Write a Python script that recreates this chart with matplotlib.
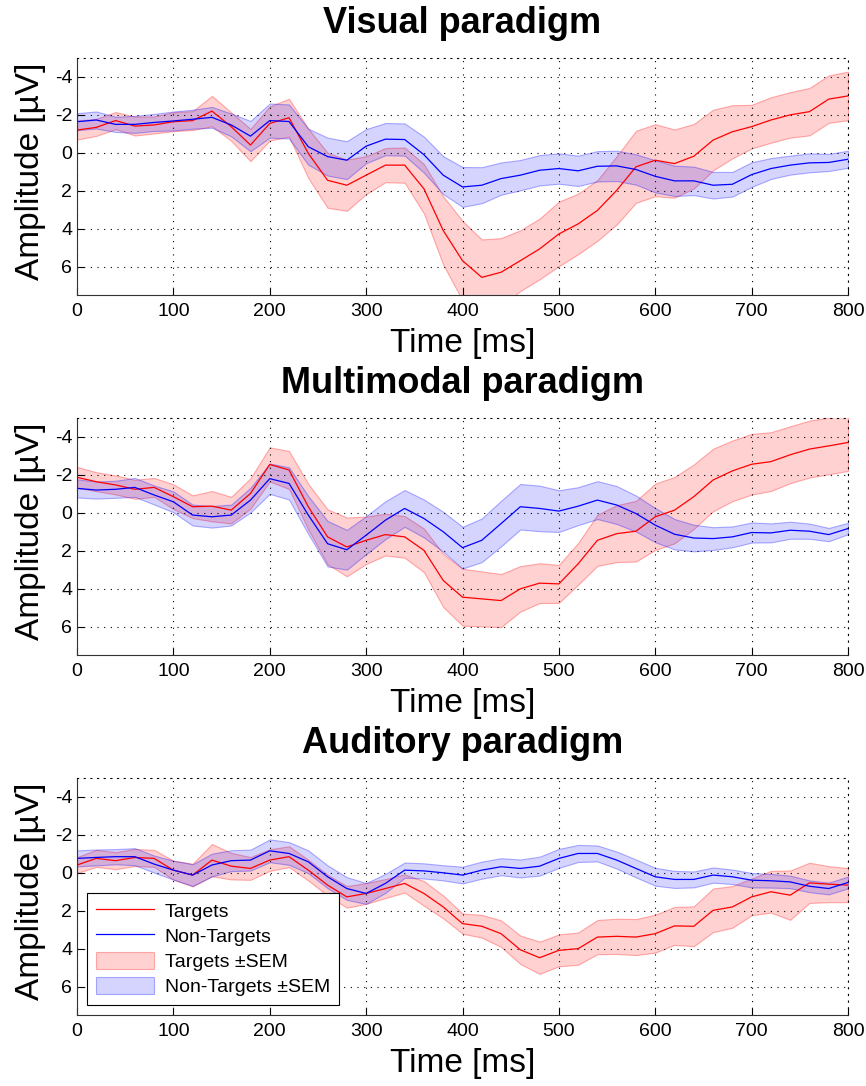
import numpy as np
import matplotlib.pyplot as plt

plt.rcParams['font.family'] = ['Liberation Sans', 'DejaVu Sans']
plt.rcParams['axes.unicode_minus'] = False

# time axis in ms (one value every 20 ms)
t = np.arange(0, 801, 20)

# Visual paradigm
vis_tgt = [-1.2, -1.34, -1.7, -1.41, -1.47, -1.64, -1.7, -2.2, -1.38, -0.41,
           -1.55, -1.85, 0.03, 1.45, 1.71, 1.18, 0.65, 0.65, 1.9, 4.1,
           5.69, 6.57, 6.3, 5.69, 5.07, 4.28, 3.75, 3.04, 1.98, 0.74,
           0.39, 0.57, 0.18, -0.67, -1.11, -1.38, -1.73, -2.0, -2.17, -2.83, -3.0]
vis_tgt_sem = [0.5, 0.45, 0.45, 0.5, 0.45, 0.5, 0.5, 0.8, 0.75, 0.85,
               0.9, 1.0, 1.3, 1.45, 1.35, 1.0, 0.9, 0.93, 1.3, 1.8,
               2.1, 2.0, 1.8, 1.6, 1.6, 1.7, 1.6, 1.6, 1.8, 1.9,
               1.9, 1.8, 1.7, 1.6, 1.4, 1.15, 1.2, 1.2, 1.25, 1.25, 1.28]
vis_non = [-1.64, -1.73, -1.5, -1.5, -1.6, -1.68, -1.77, -1.87, -1.47, -0.88,
           -1.7, -1.65, -0.32, 0.2, 0.39, -0.35, -0.72, -0.7, 0.1, 1.18,
           1.8, 1.71, 1.36, 1.18, 0.92, 0.83, 0.95, 0.71, 0.69, 0.88,
           1.24, 1.48, 1.48, 1.71, 1.66, 1.15, 0.83, 0.65, 0.53, 0.51, 0.34]
vis_non_sem = [0.45, 0.45, 0.4, 0.45, 0.45, 0.5, 0.5, 0.55, 0.6, 0.8,
               0.9, 0.9, 0.95, 1.0, 1.0, 0.9, 0.85, 0.85, 0.95, 1.0,
               1.05, 0.95, 0.85, 0.8, 0.8, 0.8, 0.8, 0.8, 0.8, 0.8,
               0.85, 0.8, 0.75, 0.7, 0.65, 0.65, 0.55, 0.5, 0.5, 0.45, 0.45]

# Multimodal paradigm
multi_tgt = [-1.87, -1.64, -1.47, -1.24, -1.34, -0.85, -0.32, -0.35, -0.14, -1.02,
             -2.55, -2.26, -0.32, 1.27, 1.8, 1.45, 1.15, 1.27, 1.98, 3.57,
             4.45, 4.54, 4.63, 4.01, 3.71, 3.75, 2.69, 1.45, 1.1, 0.97,
             0.21, -0.14, -0.85, -1.73, -2.21, -2.56, -2.7, -3.06, -3.36, -3.53, -3.71]
multi_tgt_sem = [0.55, 0.5, 0.5, 0.5, 0.5, 0.65, 0.6, 0.8, 0.7, 0.8,
                 0.9, 1.0, 1.2, 1.45, 1.55, 1.25, 1.1, 1.1, 1.15, 1.4,
                 1.5, 1.45, 1.4, 1.2, 1.05, 1.0, 1.1, 1.35, 1.5, 1.6,
                 1.75, 1.75, 1.7, 1.65, 1.6, 1.6, 1.55, 1.5, 1.5, 1.5, 1.5]
multi_non = [-1.29, -1.2, -1.24, -1.34, -0.94, -0.58, 0.12, 0.21, 0.12, -0.67,
             -1.8, -1.55, 0.12, 1.63, 1.95, 1.18, 0.39, -0.23, 0.3, 1.0,
             1.84, 1.45, 0.57, -0.32, -0.23, -0.09, -0.35, -0.67, -0.41, 0.04,
             0.65, 1.13, 1.33, 1.36, 1.27, 1.04, 1.06, 0.92, 0.97, 1.15, 0.83]
multi_non_sem = [0.48, 0.45, 0.45, 0.5, 0.5, 0.55, 0.55, 0.57, 0.55, 0.65,
                 0.8, 0.85, 1.0, 1.2, 1.05, 1.0, 1.0, 0.97, 1.0, 1.05,
                 1.1, 1.15, 1.2, 1.2, 1.2, 1.1, 1.0, 1.0, 1.0, 0.95,
                 0.9, 0.8, 0.7, 0.6, 0.55, 0.53, 0.5, 0.45, 0.4, 0.35, 0.3]

# Auditory paradigm
aud_tgt = [-0.41, -0.76, -0.64, -0.81, -0.76, -0.14, 0.12, -0.67, -0.35, -0.23,
           -0.67, -0.85, -0.14, 0.65, 1.27, 1.09, 0.83, 0.56, 1.09, 1.8,
           2.68, 2.82, 3.21, 4.06, 4.48, 4.09, 4.0, 3.39, 3.35, 3.39,
           3.21, 2.8, 2.82, 1.98, 1.8, 1.27, 1.0, 1.18, 0.53, 0.6, 0.65]
aud_tgt_sem = [0.42, 0.45, 0.45, 0.45, 0.45, 0.5, 0.6, 0.85, 0.7, 0.6,
               0.57, 0.55, 0.55, 0.55, 0.57, 0.55, 0.5, 0.48, 0.65, 0.6,
               0.53, 0.6, 0.7, 0.75, 0.85, 0.84, 0.85, 0.9, 0.93, 0.95,
               1.0, 1.0, 1.05, 1.15, 1.1, 0.97, 1.1, 1.3, 1.06, 0.95, 0.9]
aud_non = [-0.76, -0.81, -0.85, -0.85, -0.46, -0.14, 0.12, -0.41, -0.64, -0.67,
           -1.16, -1.02, -0.58, 0.21, 0.83, 1.09, 0.56, -0.14, -0.1, 0.0,
           0.12, -0.14, -0.32, -0.23, -0.35, -0.76, -1.02, -1.02, -0.67, -0.23,
           0.21, 0.35, 0.35, 0.12, 0.21, 0.39, 0.42, 0.48, 0.71, 0.83, 0.51]
aud_non_sem = [0.42, 0.42, 0.4, 0.45, 0.45, 0.5, 0.57, 0.6, 0.55, 0.55,
               0.6, 0.6, 0.6, 0.6, 0.6, 0.55, 0.5, 0.4, 0.4, 0.4,
               0.44, 0.45, 0.45, 0.47, 0.5, 0.5, 0.45, 0.42, 0.45, 0.47,
               0.47, 0.45, 0.42, 0.4, 0.38, 0.38, 0.36, 0.33, 0.31, 0.31, 0.31]

titles = ['Visual paradigm', 'Multimodal paradigm', 'Auditory paradigm']
panels = [(vis_tgt, vis_tgt_sem, vis_non, vis_non_sem),
          (multi_tgt, multi_tgt_sem, multi_non, multi_non_sem),
          (aud_tgt, aud_tgt_sem, aud_non, aud_non_sem)]

W, H = 866, 1086
fig = plt.figure(figsize=(W / 100, H / 100), dpi=100)
dots = (0, (1, 5))

for i, (title, (tg, tg_s, nt, nt_s)) in enumerate(zip(titles, panels)):
    top = 58 + 360 * i
    ax = fig.add_axes([77 / W, 1 - (top + 237) / H, 771 / W, 237 / H])

    tg, tg_s, nt, nt_s = map(np.array, (tg, tg_s, nt, nt_s))

    # SEM bands
    f1 = ax.fill_between(t, tg - tg_s, tg + tg_s, facecolor=(1, 0, 0, 0.18),
                         edgecolor=(1, 0, 0, 0.3), lw=0.8, label='Targets ±SEM')
    f2 = ax.fill_between(t, nt - nt_s, nt + nt_s, facecolor=(0, 0, 1, 0.17),
                         edgecolor=(0, 0, 1, 0.3), lw=0.8, label='Non-Targets ±SEM')
    l1, = ax.plot(t, tg, color='red', lw=0.9, label='Targets')
    l2, = ax.plot(t, nt, color='blue', lw=0.9, label='Non-Targets')

    ax.set_xlim(0, 800)
    ax.set_ylim(7.5, -5)  # negative up, like ERP plots
    ax.set_xticks(np.arange(0, 801, 100))
    ax.set_yticks([-4, -2, 0, 2, 4, 6])
    ax.grid(True, color='k', linestyle=dots, linewidth=0.8)

    for s in ['top', 'right']:
        ax.spines[s].set_linestyle(dots)
        ax.spines[s].set_linewidth(0.8)
    for s in ['bottom', 'left']:
        ax.spines[s].set_linewidth(0.8)
        ax.spines[s].set_color('#333333')

    ax.tick_params(axis='both', direction='in', length=5, width=0.8,
                   labelsize=14, colors='k')
    ax.tick_params(axis='x', pad=6)
    ax.tick_params(axis='y', pad=3.5)

    ax.set_xlabel('Time [ms]', fontsize=24)
    ax.xaxis.set_label_coords(0.5, -0.139)
    ax.set_ylabel('Amplitude [µV]', fontsize=24)
    ax.yaxis.set_label_coords(-0.040, 0.52)

    ax.text(0.5, 1 + 25 / 237, title, transform=ax.transAxes, ha='center',
            va='baseline', fontsize=26, fontweight='bold')

    if i == 2:
        leg = ax.legend(handles=[l1, l2, f1, f2], loc='lower left',
                        bbox_to_anchor=(0.013, 0.042), fontsize=14,
                        fancybox=False, framealpha=1, edgecolor='k',
                        borderaxespad=0, handlelength=3.0, handleheight=1.0,
                        handletextpad=0.55, labelspacing=0.3, borderpad=0.45)
        leg.get_frame().set_linewidth(0.8)

fig.savefig('out.png', dpi=100)
